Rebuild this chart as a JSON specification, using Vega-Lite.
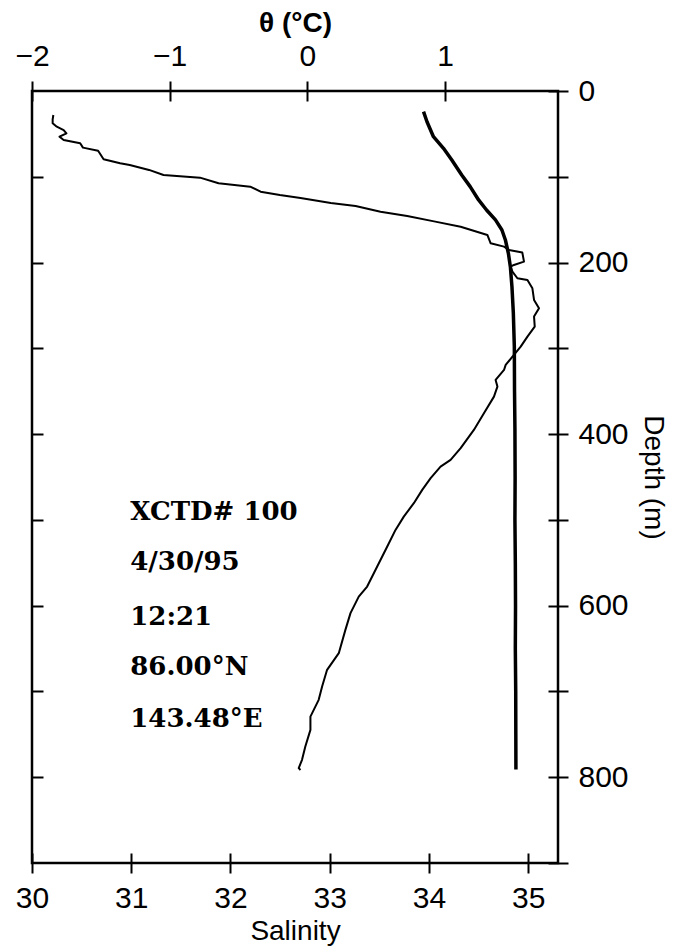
{
  "$schema": "https://vega.github.io/schema/vega-lite/v6.json",
  "width": 526,
  "height": 772,
  "autosize": {"type": "none"},
  "padding": {"left": 32, "top": 91, "right": 123, "bottom": 88},
  "background": "white",
  "config": {
    "view": {"stroke": "black", "strokeWidth": 2.5},
    "axis": {
      "grid": false,
      "domain": false,
      "tickColor": "black",
      "tickWidth": 2,
      "labelColor": "black",
      "titleColor": "black",
      "labelFont": "Liberation Sans",
      "titleFont": "Liberation Sans",
      "labelFontSize": 30,
      "titleFontSize": 28,
      "titleFontWeight": "normal",
      "labelFlush": false,
      "labelOverlap": false
    }
  },
  "datasets": {
    "theta": [
      {"depth": 28, "theta": -1.845},
      {"depth": 33, "theta": -1.85},
      {"depth": 37.6, "theta": -1.85},
      {"depth": 41.6, "theta": -1.82},
      {"depth": 45.5, "theta": -1.77},
      {"depth": 49.3, "theta": -1.75},
      {"depth": 53.3, "theta": -1.8},
      {"depth": 57.1, "theta": -1.77},
      {"depth": 61, "theta": -1.65},
      {"depth": 66, "theta": -1.63},
      {"depth": 69.6, "theta": -1.52},
      {"depth": 79.6, "theta": -1.48},
      {"depth": 84.3, "theta": -1.36},
      {"depth": 86.2, "theta": -1.29},
      {"depth": 92, "theta": -1.15},
      {"depth": 97.9, "theta": -1.045},
      {"depth": 101, "theta": -0.78},
      {"depth": 107.6, "theta": -0.645},
      {"depth": 111.5, "theta": -0.415},
      {"depth": 117.4, "theta": -0.34},
      {"depth": 121.2, "theta": -0.2},
      {"depth": 124.7, "theta": -0.05},
      {"depth": 130.5, "theta": 0.17},
      {"depth": 134, "theta": 0.35},
      {"depth": 140.7, "theta": 0.531},
      {"depth": 145.7, "theta": 0.725},
      {"depth": 152, "theta": 0.92},
      {"depth": 158.2, "theta": 1.113},
      {"depth": 167.8, "theta": 1.307},
      {"depth": 177.5, "theta": 1.331},
      {"depth": 181.4, "theta": 1.428},
      {"depth": 185.3, "theta": 1.464},
      {"depth": 188.4, "theta": 1.561},
      {"depth": 198.9, "theta": 1.573},
      {"depth": 202.8, "theta": 1.5},
      {"depth": 204.8, "theta": 1.476},
      {"depth": 210.6, "theta": 1.489},
      {"depth": 218.3, "theta": 1.525},
      {"depth": 220.3, "theta": 1.598},
      {"depth": 230, "theta": 1.634},
      {"depth": 243.6, "theta": 1.646},
      {"depth": 253.3, "theta": 1.682},
      {"depth": 263, "theta": 1.646},
      {"depth": 274.7, "theta": 1.651},
      {"depth": 286.4, "theta": 1.598},
      {"depth": 298, "theta": 1.549},
      {"depth": 307.7, "theta": 1.5},
      {"depth": 319.3, "theta": 1.44},
      {"depth": 325.2, "theta": 1.428},
      {"depth": 336.8, "theta": 1.367},
      {"depth": 344.6, "theta": 1.38},
      {"depth": 356.3, "theta": 1.355},
      {"depth": 375.6, "theta": 1.282},
      {"depth": 395.1, "theta": 1.209},
      {"depth": 416.4, "theta": 1.113},
      {"depth": 430.1, "theta": 1.04},
      {"depth": 437.9, "theta": 0.967},
      {"depth": 451.4, "theta": 0.895},
      {"depth": 465, "theta": 0.834},
      {"depth": 480.5, "theta": 0.773},
      {"depth": 496.2, "theta": 0.7},
      {"depth": 511.7, "theta": 0.64},
      {"depth": 531.1, "theta": 0.58},
      {"depth": 554.4, "theta": 0.507},
      {"depth": 577.7, "theta": 0.434},
      {"depth": 589.4, "theta": 0.373},
      {"depth": 608.7, "theta": 0.313},
      {"depth": 628.2, "theta": 0.276},
      {"depth": 655.4, "theta": 0.228},
      {"depth": 674.8, "theta": 0.143},
      {"depth": 694.3, "theta": 0.107},
      {"depth": 709.8, "theta": 0.082},
      {"depth": 729.3, "theta": 0.022},
      {"depth": 744.8, "theta": 0.022},
      {"depth": 764.2, "theta": -0.015},
      {"depth": 779.7, "theta": -0.039},
      {"depth": 789.4, "theta": -0.063},
      {"depth": 791.5, "theta": -0.05}
    ],
    "salinity": [
      {"depth": 24.1, "sal": 33.945},
      {"depth": 35.8, "sal": 33.98},
      {"depth": 53.3, "sal": 34.045},
      {"depth": 66.8, "sal": 34.146},
      {"depth": 80.4, "sal": 34.23},
      {"depth": 97.9, "sal": 34.33},
      {"depth": 111.5, "sal": 34.415},
      {"depth": 127, "sal": 34.5},
      {"depth": 138.7, "sal": 34.58},
      {"depth": 150.3, "sal": 34.67},
      {"depth": 162, "sal": 34.735},
      {"depth": 173.7, "sal": 34.77},
      {"depth": 189.2, "sal": 34.8},
      {"depth": 204.8, "sal": 34.82},
      {"depth": 228, "sal": 34.836},
      {"depth": 259, "sal": 34.85},
      {"depth": 298, "sal": 34.86},
      {"depth": 350, "sal": 34.862},
      {"depth": 393, "sal": 34.866},
      {"depth": 450, "sal": 34.868},
      {"depth": 500, "sal": 34.866},
      {"depth": 550, "sal": 34.87},
      {"depth": 600, "sal": 34.872},
      {"depth": 650, "sal": 34.87},
      {"depth": 700, "sal": 34.874},
      {"depth": 750, "sal": 34.875},
      {"depth": 791, "sal": 34.876}
    ],
    "notes": [
      {"label": "XCTD# 100", "sal": 30.99, "depth": 500},
      {"label": "4/30/95", "sal": 30.99, "depth": 558},
      {"label": "12:21", "sal": 30.99, "depth": 622},
      {"label": "86.00°N", "sal": 30.99, "depth": 681},
      {"label": "143.48°E", "sal": 30.99, "depth": 742}
    ]
  },
  "layer": [
    {
      "data": {"name": "salinity"},
      "mark": {"type": "line", "color": "black", "strokeWidth": 3.5, "strokeJoin": "round"},
      "encoding": {
        "x": {
          "field": "sal", "type": "quantitative",
          "scale": {"domain": [30, 35.3], "nice": false, "zero": false},
          "axis": {"orient": "bottom", "values": [30, 31, 32, 33, 34, 35], "offset": -10, "tickSize": 20, "labelPadding": 10, "title": "Salinity", "titlePadding": 4}
        },
        "y": {
          "field": "depth", "type": "quantitative",
          "scale": {"domain": [0, 900], "nice": false, "zero": false, "reverse": true},
          "axis": {"orient": "left", "values": [100, 200, 300, 400, 500, 600, 700, 800], "offset": -11, "tickSize": 11, "labels": false, "title": null}
        },
        "order": {"field": "depth", "type": "quantitative"}
      }
    },
    {
      "data": {"name": "theta"},
      "mark": {"type": "line", "color": "black", "strokeWidth": 2, "strokeJoin": "round"},
      "encoding": {
        "x": {
          "field": "theta", "type": "quantitative",
          "scale": {"domain": [-2, 1.82], "nice": false, "zero": false},
          "axis": {"orient": "top", "values": [-2, -1, 0, 1], "offset": -10, "tickSize": 20, "labelPadding": 10, "title": "θ (°C)", "titleFontWeight": "bold", "titlePadding": 4}
        },
        "y": {
          "field": "depth", "type": "quantitative",
          "scale": {"domain": [0, 900], "nice": false, "zero": false, "reverse": true},
          "axis": {"orient": "right", "values": [0, 100, 200, 300, 400, 500, 600, 700, 800, 900], "offset": -10, "tickSize": 20, "labelPadding": 10, "labelExpr": "datum.value % 200 == 0 ? datum.label : ''", "title": "Depth (m)", "titlePadding": 10}
        },
        "order": {"field": "depth", "type": "quantitative"}
      }
    },
    {
      "data": {"name": "notes"},
      "mark": {"type": "text", "align": "left", "baseline": "alphabetic", "font": "DejaVu Serif", "fontWeight": "bold", "fontSize": 26, "color": "black"},
      "encoding": {
        "x": {"field": "sal", "type": "quantitative", "scale": {"domain": [30, 35.3], "nice": false, "zero": false}, "axis": null},
        "y": {"field": "depth", "type": "quantitative", "scale": {"domain": [0, 900], "nice": false, "zero": false, "reverse": true}, "axis": null},
        "text": {"field": "label", "type": "nominal"}
      }
    }
  ],
  "resolve": {"scale": {"x": "independent", "y": "independent"}}
}
